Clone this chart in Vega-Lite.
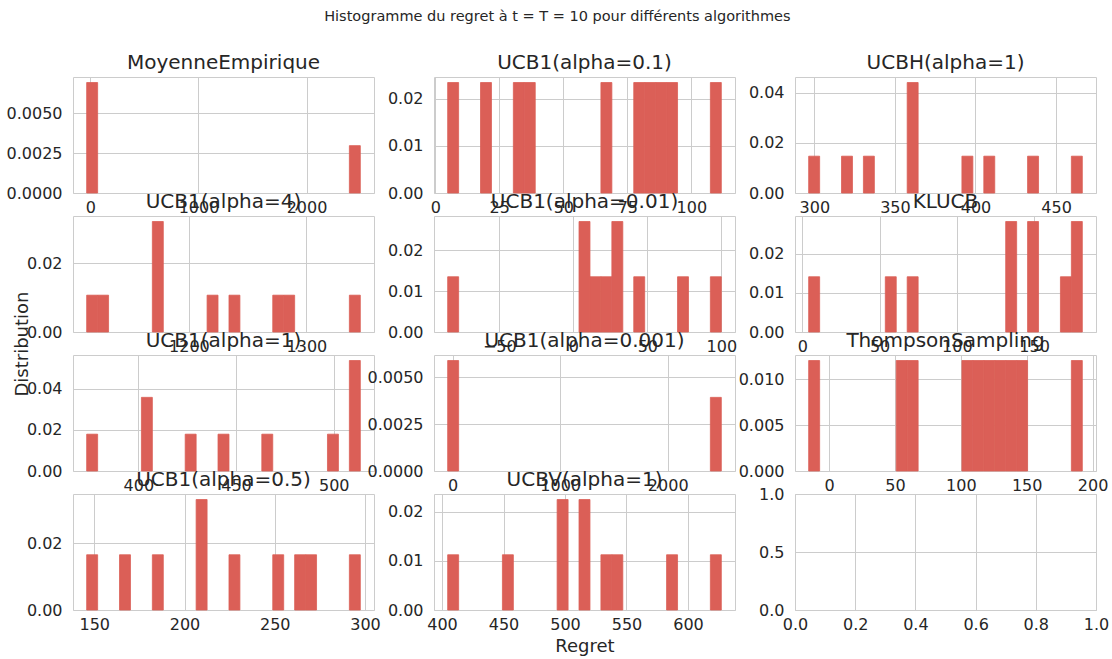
{
  "$schema": "https://vega.github.io/schema/vega-lite/v6.json",
  "padding": {"left": 5, "top": 9, "right": 5, "bottom": 5},
  "background": "white",
  "title": {"text": "Histogramme du regret à t = T = 10 pour différents algorithmes", "fontSize": 14.5, "offset": 28, "anchor": "middle", "color": "#262626", "fontWeight": "normal"},
  "config": {
    "font": "DejaVu Sans",
    "view": {"stroke": "#cccccc", "strokeWidth": 1},
    "axis": {"grid": true, "gridColor": "#cccccc", "gridWidth": 1, "domain": false, "ticks": false, "labelFontSize": 16, "labelColor": "#262626", "labelFlush": false, "labelOverlap": false, "titleFontSize": 18, "titleColor": "#262626", "titleFontWeight": "normal"},
    "axisX": {"labelPadding": 6, "titlePadding": 5},
    "axisY": {"labelPadding": 11},
    "bar": {"color": "#db5f57", "stroke": "#db5f57", "strokeWidth": 0.8},
    "title": {"fontSize": 20, "fontWeight": "normal", "color": "#262626", "offset": 4}
  },
  "datasets": {
    "h": [
      {"algo": "MoyenneEmpirique", "lo": -35, "hi": 66.32, "density": 0.006909},
      {"algo": "MoyenneEmpirique", "lo": 2396.68, "hi": 2498, "density": 0.002961},
      {"algo": "UCB1(alpha=0.1)", "lo": 4.85, "hi": 9.124, "density": 0.0234},
      {"algo": "UCB1(alpha=0.1)", "lo": 17.672, "hi": 21.946, "density": 0.0234},
      {"algo": "UCB1(alpha=0.1)", "lo": 30.494, "hi": 34.768, "density": 0.0234},
      {"algo": "UCB1(alpha=0.1)", "lo": 34.768, "hi": 39.042, "density": 0.0234},
      {"algo": "UCB1(alpha=0.1)", "lo": 64.686, "hi": 68.96, "density": 0.0234},
      {"algo": "UCB1(alpha=0.1)", "lo": 77.508, "hi": 81.782, "density": 0.0234},
      {"algo": "UCB1(alpha=0.1)", "lo": 81.782, "hi": 86.056, "density": 0.0234},
      {"algo": "UCB1(alpha=0.1)", "lo": 86.056, "hi": 90.33, "density": 0.0234},
      {"algo": "UCB1(alpha=0.1)", "lo": 90.33, "hi": 94.604, "density": 0.0234},
      {"algo": "UCB1(alpha=0.1)", "lo": 107.426, "hi": 111.7, "density": 0.0234},
      {"algo": "UCBH(alpha=1)", "lo": 296.5, "hi": 303.292, "density": 0.014723},
      {"algo": "UCBH(alpha=1)", "lo": 316.876, "hi": 323.668, "density": 0.014723},
      {"algo": "UCBH(alpha=1)", "lo": 330.46, "hi": 337.252, "density": 0.014723},
      {"algo": "UCBH(alpha=1)", "lo": 357.628, "hi": 364.42, "density": 0.04417},
      {"algo": "UCBH(alpha=1)", "lo": 391.588, "hi": 398.38, "density": 0.014723},
      {"algo": "UCBH(alpha=1)", "lo": 405.172, "hi": 411.964, "density": 0.014723},
      {"algo": "UCBH(alpha=1)", "lo": 432.34, "hi": 439.132, "density": 0.014723},
      {"algo": "UCBH(alpha=1)", "lo": 459.508, "hi": 466.3, "density": 0.014723},
      {"algo": "UCB1(alpha=4)", "lo": 1113, "hi": 1122.316, "density": 0.010734},
      {"algo": "UCB1(alpha=4)", "lo": 1122.316, "hi": 1131.632, "density": 0.010734},
      {"algo": "UCB1(alpha=4)", "lo": 1168.896, "hi": 1178.212, "density": 0.032203},
      {"algo": "UCB1(alpha=4)", "lo": 1215.476, "hi": 1224.792, "density": 0.010734},
      {"algo": "UCB1(alpha=4)", "lo": 1234.108, "hi": 1243.424, "density": 0.010734},
      {"algo": "UCB1(alpha=4)", "lo": 1271.372, "hi": 1280.688, "density": 0.010734},
      {"algo": "UCB1(alpha=4)", "lo": 1280.688, "hi": 1290.004, "density": 0.010734},
      {"algo": "UCB1(alpha=4)", "lo": 1336.584, "hi": 1345.9, "density": 0.010734},
      {"algo": "UCB1(alpha=0.01)", "lo": -84.9, "hi": -77.504, "density": 0.013521},
      {"algo": "UCB1(alpha=0.01)", "lo": 3.852, "hi": 11.248, "density": 0.027042},
      {"algo": "UCB1(alpha=0.01)", "lo": 11.248, "hi": 18.644, "density": 0.013521},
      {"algo": "UCB1(alpha=0.01)", "lo": 18.644, "hi": 26.04, "density": 0.013521},
      {"algo": "UCB1(alpha=0.01)", "lo": 26.04, "hi": 33.436, "density": 0.027042},
      {"algo": "UCB1(alpha=0.01)", "lo": 40.832, "hi": 48.228, "density": 0.013521},
      {"algo": "UCB1(alpha=0.01)", "lo": 70.416, "hi": 77.812, "density": 0.013521},
      {"algo": "UCB1(alpha=0.01)", "lo": 92.604, "hi": 100, "density": 0.013521},
      {"algo": "KLUCB", "lo": 4.1, "hi": 11.184, "density": 0.014116},
      {"algo": "KLUCB", "lo": 53.688, "hi": 60.772, "density": 0.014116},
      {"algo": "KLUCB", "lo": 67.856, "hi": 74.94, "density": 0.014116},
      {"algo": "KLUCB", "lo": 131.612, "hi": 138.696, "density": 0.028233},
      {"algo": "KLUCB", "lo": 145.78, "hi": 152.864, "density": 0.028233},
      {"algo": "KLUCB", "lo": 167.032, "hi": 174.116, "density": 0.014116},
      {"algo": "KLUCB", "lo": 174.116, "hi": 181.2, "density": 0.028233},
      {"algo": "UCB1(alpha=1)", "lo": 373.6, "hi": 379.2, "density": 0.017857},
      {"algo": "UCB1(alpha=1)", "lo": 401.6, "hi": 407.2, "density": 0.035714},
      {"algo": "UCB1(alpha=1)", "lo": 424, "hi": 429.6, "density": 0.017857},
      {"algo": "UCB1(alpha=1)", "lo": 440.8, "hi": 446.4, "density": 0.017857},
      {"algo": "UCB1(alpha=1)", "lo": 463.2, "hi": 468.8, "density": 0.017857},
      {"algo": "UCB1(alpha=1)", "lo": 496.8, "hi": 502.4, "density": 0.017857},
      {"algo": "UCB1(alpha=1)", "lo": 508, "hi": 513.6, "density": 0.053571},
      {"algo": "UCB1(alpha=0.001)", "lo": -45, "hi": 56.72, "density": 0.005899},
      {"algo": "UCB1(alpha=0.001)", "lo": 2396.28, "hi": 2498, "density": 0.003932},
      {"algo": "ThompsonSampling", "lo": -15.4, "hi": -7.096, "density": 0.012042},
      {"algo": "ThompsonSampling", "lo": 51.032, "hi": 59.336, "density": 0.012042},
      {"algo": "ThompsonSampling", "lo": 59.336, "hi": 67.64, "density": 0.012042},
      {"algo": "ThompsonSampling", "lo": 100.856, "hi": 109.16, "density": 0.012042},
      {"algo": "ThompsonSampling", "lo": 109.16, "hi": 117.464, "density": 0.012042},
      {"algo": "ThompsonSampling", "lo": 117.464, "hi": 125.768, "density": 0.012042},
      {"algo": "ThompsonSampling", "lo": 125.768, "hi": 134.072, "density": 0.012042},
      {"algo": "ThompsonSampling", "lo": 134.072, "hi": 142.376, "density": 0.012042},
      {"algo": "ThompsonSampling", "lo": 142.376, "hi": 150.68, "density": 0.012042},
      {"algo": "ThompsonSampling", "lo": 183.896, "hi": 192.2, "density": 0.012042},
      {"algo": "UCB1(alpha=0.5)", "lo": 145.8, "hi": 151.864, "density": 0.016491},
      {"algo": "UCB1(alpha=0.5)", "lo": 163.992, "hi": 170.056, "density": 0.016491},
      {"algo": "UCB1(alpha=0.5)", "lo": 182.184, "hi": 188.248, "density": 0.016491},
      {"algo": "UCB1(alpha=0.5)", "lo": 206.44, "hi": 212.504, "density": 0.032982},
      {"algo": "UCB1(alpha=0.5)", "lo": 224.632, "hi": 230.696, "density": 0.016491},
      {"algo": "UCB1(alpha=0.5)", "lo": 248.888, "hi": 254.952, "density": 0.016491},
      {"algo": "UCB1(alpha=0.5)", "lo": 261.016, "hi": 267.08, "density": 0.016491},
      {"algo": "UCB1(alpha=0.5)", "lo": 267.08, "hi": 273.144, "density": 0.016491},
      {"algo": "UCB1(alpha=0.5)", "lo": 291.336, "hi": 297.4, "density": 0.016491},
      {"algo": "UCBV(alpha=1)", "lo": 404.6, "hi": 413.5, "density": 0.011236},
      {"algo": "UCBV(alpha=1)", "lo": 449.1, "hi": 458, "density": 0.011236},
      {"algo": "UCBV(alpha=1)", "lo": 493.6, "hi": 502.5, "density": 0.022472},
      {"algo": "UCBV(alpha=1)", "lo": 511.4, "hi": 520.3, "density": 0.022472},
      {"algo": "UCBV(alpha=1)", "lo": 529.2, "hi": 538.1, "density": 0.011236},
      {"algo": "UCBV(alpha=1)", "lo": 538.1, "hi": 547, "density": 0.011236},
      {"algo": "UCBV(alpha=1)", "lo": 582.6, "hi": 591.5, "density": 0.011236},
      {"algo": "UCBV(alpha=1)", "lo": 618.2, "hi": 627.1, "density": 0.011236}
    ]
  },
  "columns": 3,
  "spacing": {"row": 23, "column": 60},
  "bounds": "flush",
  "concat": [
    {
      "title": "MoyenneEmpirique", "width": 301, "height": 116,
      "data": {"name": "h"}, "transform": [{"filter": "datum.algo === 'MoyenneEmpirique'"}],
      "mark": {"type": "bar"},
      "encoding": {
        "x": {"field": "lo", "type": "quantitative", "scale": {"domain": [-161.65, 2624.65], "nice": false, "zero": false}, "axis": {"values": [0, 1000, 2000], "format": "d", "title": null}},
        "x2": {"field": "hi"},
        "y": {"field": "density", "type": "quantitative", "scale": {"domain": [0, 0.007254], "nice": false}, "axis": {"values": [0, 0.0025, 0.005], "format": ".4f", "title": null}},
        "y2": {"datum": 0}
      }
    },
    {
      "title": "UCB1(alpha=0.1)", "width": 301, "height": 116,
      "data": {"name": "h"}, "transform": [{"filter": "datum.algo === 'UCB1(alpha=0.1)'"}],
      "mark": {"type": "bar"},
      "encoding": {
        "x": {"field": "lo", "type": "quantitative", "scale": {"domain": [-0.49, 117.04], "nice": false, "zero": false}, "axis": {"values": [0, 25, 50, 75, 100], "format": "d", "title": null}},
        "x2": {"field": "hi"},
        "y": {"field": "density", "type": "quantitative", "scale": {"domain": [0, 0.02457], "nice": false}, "axis": {"values": [0, 0.01, 0.02], "format": ".2f", "title": null}},
        "y2": {"datum": 0}
      }
    },
    {
      "title": "UCBH(alpha=1)", "width": 301, "height": 116,
      "data": {"name": "h"}, "transform": [{"filter": "datum.algo === 'UCBH(alpha=1)'"}],
      "mark": {"type": "bar"},
      "encoding": {
        "x": {"field": "lo", "type": "quantitative", "scale": {"domain": [288.01, 474.79], "nice": false, "zero": false}, "axis": {"values": [300, 350, 400, 450], "format": "d", "title": null}},
        "x2": {"field": "hi"},
        "y": {"field": "density", "type": "quantitative", "scale": {"domain": [0, 0.04638], "nice": false}, "axis": {"values": [0, 0.02, 0.04], "format": ".2f", "title": null}},
        "y2": {"datum": 0}
      }
    },
    {
      "title": "UCB1(alpha=4)", "width": 301, "height": 116,
      "data": {"name": "h"}, "transform": [{"filter": "datum.algo === 'UCB1(alpha=4)'"}],
      "mark": {"type": "bar"},
      "encoding": {
        "x": {"field": "lo", "type": "quantitative", "scale": {"domain": [1101.355, 1357.545], "nice": false, "zero": false}, "axis": {"values": [1200, 1300], "format": "d", "title": null}},
        "x2": {"field": "hi"},
        "y": {"field": "density", "type": "quantitative", "scale": {"domain": [0, 0.03381], "nice": false}, "axis": {"values": [0, 0.02], "format": ".2f", "title": "Distribution", "titleX": -46, "titleY": 127.5, "titleBaseline": "alphabetic"}},
        "y2": {"datum": 0}
      }
    },
    {
      "title": "UCB1(alpha=0.01)", "width": 301, "height": 116,
      "data": {"name": "h"}, "transform": [{"filter": "datum.algo === 'UCB1(alpha=0.01)'"}],
      "mark": {"type": "bar"},
      "encoding": {
        "x": {"field": "lo", "type": "quantitative", "scale": {"domain": [-94.145, 109.245], "nice": false, "zero": false}, "axis": {"values": [-50, 0, 50, 100], "format": "d", "title": null}},
        "x2": {"field": "hi"},
        "y": {"field": "density", "type": "quantitative", "scale": {"domain": [0, 0.02839], "nice": false}, "axis": {"values": [0, 0.01, 0.02], "format": ".2f", "title": null}},
        "y2": {"datum": 0}
      }
    },
    {
      "title": "KLUCB", "width": 301, "height": 116,
      "data": {"name": "h"}, "transform": [{"filter": "datum.algo === 'KLUCB'"}],
      "mark": {"type": "bar"},
      "encoding": {
        "x": {"field": "lo", "type": "quantitative", "scale": {"domain": [-4.755, 190.055], "nice": false, "zero": false}, "axis": {"values": [0, 50, 100, 150], "format": "d", "title": null}},
        "x2": {"field": "hi"},
        "y": {"field": "density", "type": "quantitative", "scale": {"domain": [0, 0.02964], "nice": false}, "axis": {"values": [0, 0.01, 0.02], "format": ".2f", "title": null}},
        "y2": {"datum": 0}
      }
    },
    {
      "title": "UCB1(alpha=1)", "width": 301, "height": 116,
      "data": {"name": "h"}, "transform": [{"filter": "datum.algo === 'UCB1(alpha=1)'"}],
      "mark": {"type": "bar"},
      "encoding": {
        "x": {"field": "lo", "type": "quantitative", "scale": {"domain": [366.6, 520.6], "nice": false, "zero": false}, "axis": {"values": [400, 450, 500], "format": "d", "title": null}},
        "x2": {"field": "hi"},
        "y": {"field": "density", "type": "quantitative", "scale": {"domain": [0, 0.05625], "nice": false}, "axis": {"values": [0, 0.02, 0.04], "format": ".2f", "title": null}},
        "y2": {"datum": 0}
      }
    },
    {
      "title": "UCB1(alpha=0.001)", "width": 301, "height": 116,
      "data": {"name": "h"}, "transform": [{"filter": "datum.algo === 'UCB1(alpha=0.001)'"}],
      "mark": {"type": "bar"},
      "encoding": {
        "x": {"field": "lo", "type": "quantitative", "scale": {"domain": [-172.15, 2625.15], "nice": false, "zero": false}, "axis": {"values": [0, 1000, 2000], "format": "d", "title": null}},
        "x2": {"field": "hi"},
        "y": {"field": "density", "type": "quantitative", "scale": {"domain": [0, 0.006194], "nice": false}, "axis": {"values": [0, 0.0025, 0.005], "format": ".4f", "title": null}},
        "y2": {"datum": 0}
      }
    },
    {
      "title": "ThompsonSampling", "width": 301, "height": 116,
      "data": {"name": "h"}, "transform": [{"filter": "datum.algo === 'ThompsonSampling'"}],
      "mark": {"type": "bar"},
      "encoding": {
        "x": {"field": "lo", "type": "quantitative", "scale": {"domain": [-25.78, 202.58], "nice": false, "zero": false}, "axis": {"values": [0, 50, 100, 150, 200], "format": "d", "title": null}},
        "x2": {"field": "hi"},
        "y": {"field": "density", "type": "quantitative", "scale": {"domain": [0, 0.012644], "nice": false}, "axis": {"values": [0, 0.005, 0.01], "format": ".3f", "title": null}},
        "y2": {"datum": 0}
      }
    },
    {
      "title": "UCB1(alpha=0.5)", "width": 301, "height": 116,
      "data": {"name": "h"}, "transform": [{"filter": "datum.algo === 'UCB1(alpha=0.5)'"}],
      "mark": {"type": "bar"},
      "encoding": {
        "x": {"field": "lo", "type": "quantitative", "scale": {"domain": [138.22, 304.98], "nice": false, "zero": false}, "axis": {"values": [150, 200, 250, 300], "format": "d", "title": null}},
        "x2": {"field": "hi"},
        "y": {"field": "density", "type": "quantitative", "scale": {"domain": [0, 0.034631], "nice": false}, "axis": {"values": [0, 0.02], "format": ".2f", "title": null}},
        "y2": {"datum": 0}
      }
    },
    {
      "title": "UCBV(alpha=1)", "width": 301, "height": 116,
      "data": {"name": "h"}, "transform": [{"filter": "datum.algo === 'UCBV(alpha=1)'"}],
      "mark": {"type": "bar"},
      "encoding": {
        "x": {"field": "lo", "type": "quantitative", "scale": {"domain": [393.475, 638.225], "nice": false, "zero": false}, "axis": {"values": [400, 450, 500, 550, 600], "format": "d", "title": "Regret"}},
        "x2": {"field": "hi"},
        "y": {"field": "density", "type": "quantitative", "scale": {"domain": [0, 0.023596], "nice": false}, "axis": {"values": [0, 0.01, 0.02], "format": ".2f", "title": null}},
        "y2": {"datum": 0}
      }
    },
    {
      "width": 301, "height": 116,
      "data": {"name": "h"}, "transform": [{"filter": "false"}],
      "mark": {"type": "bar"},
      "encoding": {
        "x": {"field": "lo", "type": "quantitative", "scale": {"domain": [0, 1], "nice": false, "zero": false}, "axis": {"values": [0, 0.2, 0.4, 0.6, 0.8, 1], "format": ".1f", "title": null}},
        "x2": {"field": "hi"},
        "y": {"field": "density", "type": "quantitative", "scale": {"domain": [0, 1], "nice": false}, "axis": {"values": [0, 0.5, 1], "format": ".1f", "title": null}},
        "y2": {"datum": 0}
      }
    }
  ]
}
